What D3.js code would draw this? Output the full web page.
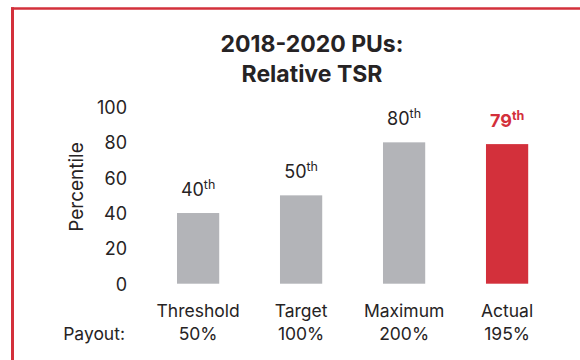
<!DOCTYPE html>
<html>
<head>
<meta charset="utf-8">
<script src="https://cdn.jsdelivr.net/npm/d3@7"></script>
<style>
  html, body { margin: 0; padding: 0; background: #fff; }
  svg { display: block; }
  text { font-family: Inter, "Open Sans", sans-serif; fill: #262324; }
</style>
</head>
<body>
<svg id="chart" width="580" height="360"></svg>
<script>
// Performance units: relative TSR percentile by payout level
const categories = ["Threshold", "Target", "Maximum", "Actual"];
const payouts = ["50%", "100%", "200%", "195%"];
const percentiles = [40, 50, 80, 79];
const yTicks = [0, 20, 40, 60, 80, 100];

const RED = "#d3303b";
const GRAY = "#b3b4b8";
const INK = "#262324";

const svg = d3.select("#chart");

// Frame: red rule along the top and left edges
svg.append("line").attr("x1", 11).attr("x2", 580).attr("y1", 8.5).attr("y2", 8.5)
  .attr("stroke", RED).attr("stroke-width", 2.6);
svg.append("line").attr("x1", 12.5).attr("x2", 12.5).attr("y1", 7.2).attr("y2", 360)
  .attr("stroke", RED).attr("stroke-width", 3);

// Title
const title = svg.append("text").attr("text-anchor", "middle")
  .style("font-weight", 700).style("font-size", "23px").attr("fill", INK);
title.append("tspan").attr("x", 312).attr("y", 52).text("2018-2020 PUs:");
title.append("tspan").attr("x", 312).attr("y", 81.5).text("Relative TSR");

const x = d3.scaleBand().domain(categories)
  .range([125.5, 579.7]).paddingInner(0.59).paddingOuter(0.5);
const y = d3.scaleLinear().domain([0, 100]).range([283.7, 107]);

// Y axis (labels only)
const yAxis = d3.axisLeft(y).tickValues(yTicks).tickSize(0).tickPadding(0);
const gy = svg.append("g").attr("transform", "translate(127,0)").call(yAxis);
gy.select(".domain").remove();
gy.selectAll("text").style("font-size", "18px").attr("fill", INK)
  .style("font-family", "Inter, sans-serif").attr("dy", "0.36em");

svg.append("text").attr("transform", "translate(83,187) rotate(-90)")
  .attr("text-anchor", "middle").style("font-size", "19px").attr("fill", INK).text("Percentile");

// Bars
const data = categories.map((c, i) => ({ c, p: payouts[i], v: percentiles[i], hl: c === "Actual" }));

svg.append("g").selectAll("rect").data(data).join("rect")
  .attr("x", d => x(d.c)).attr("width", x.bandwidth())
  .attr("y", d => y(d.v)).attr("height", d => y(0) - y(d.v))
  .attr("fill", d => d.hl ? RED : GRAY);

// Value labels with ordinal suffix
const vl = svg.append("g").selectAll("text").data(data).join("text")
  .attr("text-anchor", "middle")
  .attr("x", d => x(d.c) + x.bandwidth() / 2)
  .attr("y", d => y(d.v) - 17)
  .style("font-size", "18px")
  .style("font-weight", d => d.hl ? 700 : 400)
  .attr("fill", d => d.hl ? RED : INK);
vl.append("tspan").text(d => d.v).attr("fill", d => d.hl ? RED : INK);
vl.append("tspan").text("th").attr("dy", -7).style("font-size", "12.5px")
  .attr("fill", d => d.hl ? RED : INK);

// Category and payout labels
const xl = svg.append("g").selectAll("text").data(data).join("text")
  .attr("text-anchor", "middle").style("font-size", "17.5px").attr("fill", INK);
xl.append("tspan").attr("x", d => x(d.c) + x.bandwidth() / 2).attr("y", 317).text(d => d.c);
xl.append("tspan").attr("x", d => x(d.c) + x.bandwidth() / 2).attr("y", 340).text(d => d.p);

svg.append("text").attr("x", 125).attr("y", 340).attr("text-anchor", "end")
  .style("font-size", "17.5px").attr("fill", INK).text("Payout:");
</script>
</body>
</html>
